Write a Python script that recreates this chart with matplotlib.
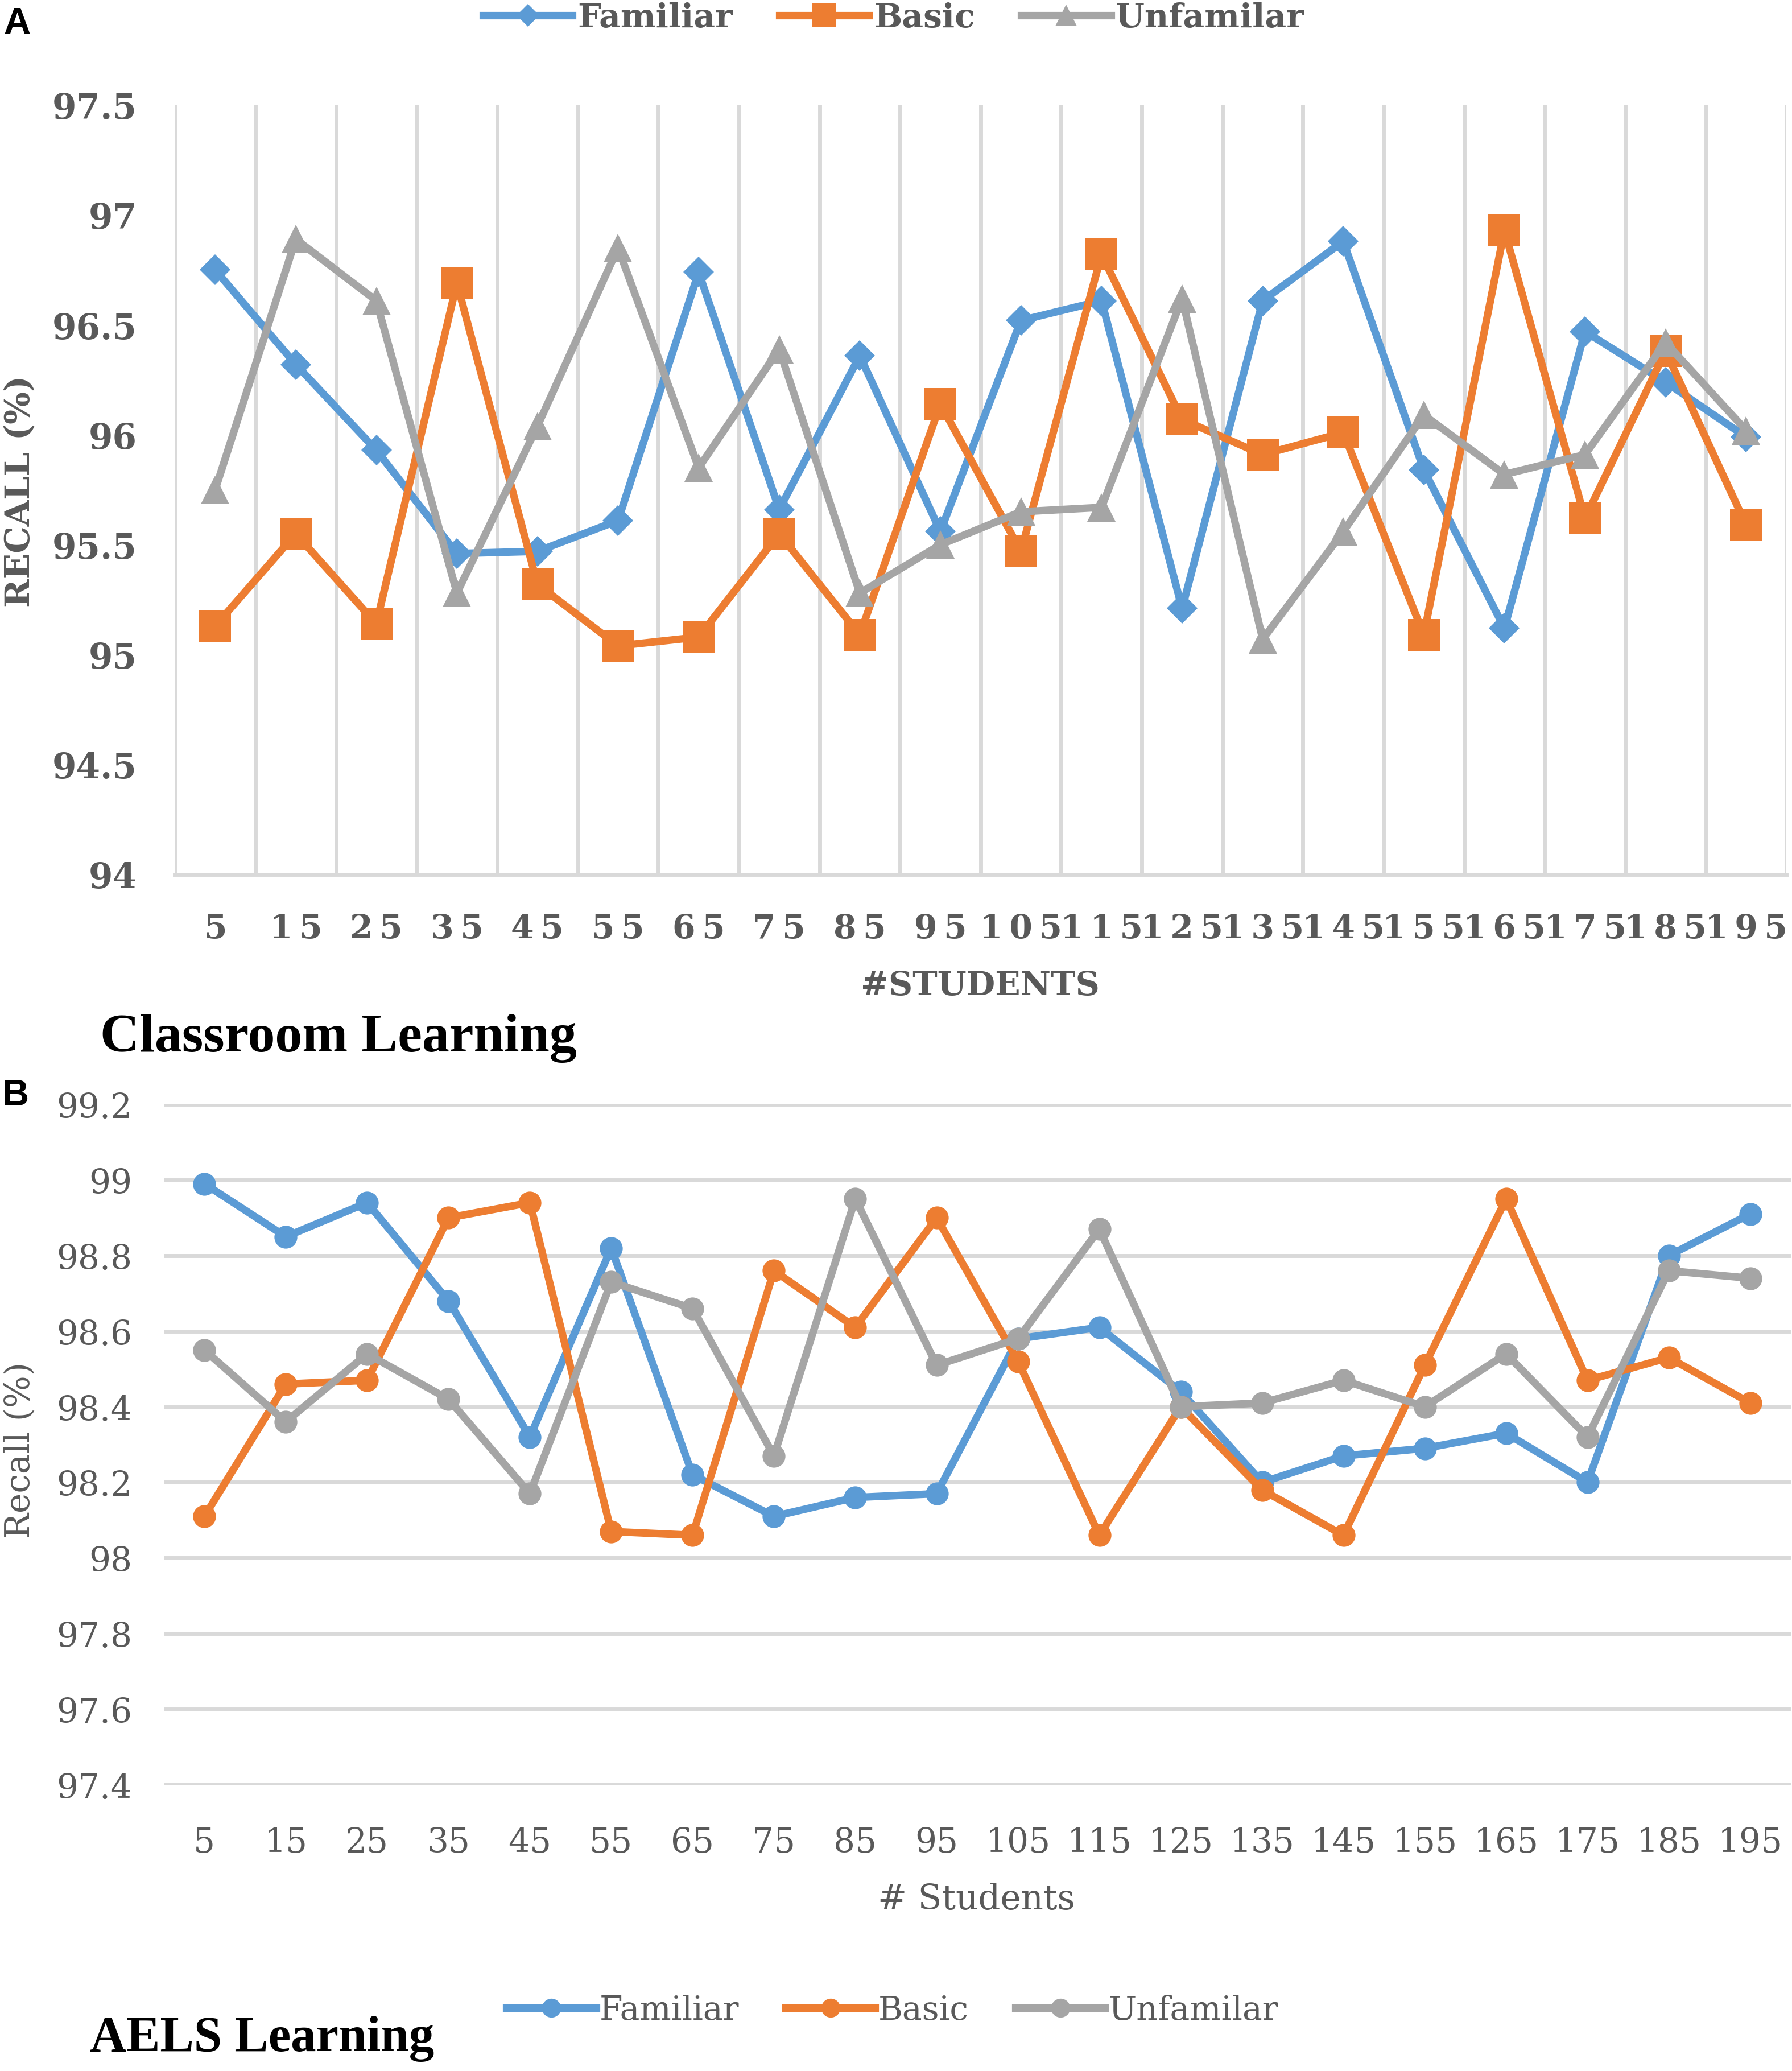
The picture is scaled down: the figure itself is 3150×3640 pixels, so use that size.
import matplotlib
matplotlib.use('Agg')
import matplotlib.pyplot as plt
from matplotlib.lines import Line2D

# ---------------- data ----------------
students = [5, 15, 25, 35, 45, 55, 65, 75, 85, 95,
            105, 115, 125, 135, 145, 155, 165, 175, 185, 195]
top_xticklabels = ["5", "1\u20095", "2\u20095", "3\u20095", "4\u20095", "5\u20095", "6\u20095",
                   "7\u20095", "8\u20095", "9\u20095",
                   "1\u20090\u20095", "1\u20091\u20095", "1\u20092\u20095", "1\u20093\u20095",
                   "1\u20094\u20095", "1\u20095\u20095", "1\u20096\u20095", "1\u20097\u20095",
                   "1\u20098\u20095", "1\u20099\u20095"]
bottom_xticklabels = ["5", "15", "25", "35", "45", "55", "65", "75", "85", "95",
                      "105", "115", "125", "135", "145", "155", "165", "175", "185", "195"]
series_names = ["Familiar", "Basic", "Unfamilar"]

top_yticks = [94, 94.5, 95, 95.5, 96, 96.5, 97, 97.5]
top_yticklabels = ["94", "94.5", "95", "95.5", "96", "96.5", "97", "97.5"]
bottom_yticks = [97.4, 97.6, 97.8, 98, 98.2, 98.4, 98.6, 98.8, 99, 99.2]
bottom_yticklabels = ["97.4", "97.6", "97.8", "98", "98.2", "98.4", "98.6", "98.8", "99", "99.2"]

classroom_familiar = [96.75, 96.32, 95.93, 95.46, 95.47, 95.61, 96.74, 95.66, 96.36, 95.56,
                      96.52, 96.61, 95.21, 96.61, 96.88, 95.84, 95.12, 96.47, 96.24, 95.99]
classroom_basic = [95.13, 95.55, 95.14, 96.69, 95.32, 95.04, 95.08, 95.55, 95.09, 96.14,
                   95.47, 96.82, 96.07, 95.91, 96.01, 95.09, 96.93, 95.62, 96.38, 95.59]
classroom_unfamiliar = [95.75, 96.89, 96.61, 95.28, 96.04, 96.85, 95.85, 96.39, 95.28, 95.50,
                        95.65, 95.67, 96.62, 95.07, 95.56, 96.09, 95.82, 95.91, 96.42, 96.02]

aels_familiar = [98.99, 98.85, 98.94, 98.68, 98.32, 98.82, 98.22, 98.11, 98.16, 98.17,
                 98.58, 98.61, 98.44, 98.20, 98.27, 98.29, 98.33, 98.20, 98.80, 98.91]
aels_basic = [98.11, 98.46, 98.47, 98.90, 98.94, 98.07, 98.06, 98.76, 98.61, 98.90,
              98.52, 98.06, 98.40, 98.18, 98.06, 98.51, 98.95, 98.47, 98.53, 98.41]
aels_unfamiliar = [98.55, 98.36, 98.54, 98.42, 98.17, 98.73, 98.66, 98.27, 98.95, 98.51,
                   98.58, 98.87, 98.40, 98.41, 98.47, 98.40, 98.54, 98.32, 98.76, 98.74]

# ---------------- style ----------------
colors = ["#5B9BD5", "#ED7D31", "#A5A5A5"]
grid_c = "#D9D9D9"
text_c = "#595959"
serif = "DejaVu Serif"
title_font = "Liberation Serif"
LW = 9.5
GW = 5

fig = plt.figure(figsize=(31.5, 36.41), dpi=100)

pos = list(range(len(students)))

# ================= Panel A =================
axA = fig.add_axes([0.0976, 0.5776, 0.8993, 0.3714])
top_markers = ["D", "s", "^"]
top_msizes = [27, 40, 36]
for vals, c, m, ms, name in zip([classroom_familiar, classroom_basic, classroom_unfamiliar],
                                colors, top_markers, top_msizes, series_names):
    axA.plot(pos, vals, color=c, lw=LW, marker=m, markersize=ms,
             markeredgewidth=0, label=name, zorder=3, clip_on=False)
axA.set_xlim(-0.5, len(students) - 0.5)
axA.set_ylim(94, 97.5)
axA.set_xticks(pos)
axA.set_xticklabels(top_xticklabels, fontfamily=serif, fontweight='bold',
                    fontsize=42, color=text_c)
axA.set_xticks([p - 0.5 for p in pos] + [len(students) - 0.5], minor=True)
axA.set_yticks(top_yticks)
axA.set_yticklabels(top_yticklabels, fontfamily=serif, fontweight='bold',
                    fontsize=44, color=text_c)
axA.tick_params(axis='both', which='both', length=0)
axA.tick_params(axis='x', which='major', pad=48)
axA.tick_params(axis='y', pad=48)
axA.grid(True, axis='x', which='minor', color=grid_c, lw=GW, zorder=0)
axA.grid(False, axis='x', which='major')
for s in ['top', 'left', 'right']:
    axA.spines[s].set_visible(False)
axA.spines['bottom'].set_color(grid_c)
axA.spines['bottom'].set_linewidth(GW)

fig.text(0.0110, 0.763, "RECALL (%)", rotation=90, ha='center', va='center',
         fontfamily=serif, fontweight='bold', fontsize=43, color=text_c)
fig.text(0.547, 0.524, "#STUDENTS", ha='center', va='center',
         fontfamily=serif, fontweight='bold', fontsize=42, color=text_c)

handlesA = [Line2D([], [], color=c, lw=LW, marker=m, markersize=ms * 0.75, markeredgewidth=0)
            for c, m, ms in zip(colors, top_markers, top_msizes)]
legA = fig.legend(handlesA, series_names, loc='center', bbox_to_anchor=(0.4986, 0.9912),
                  ncol=3, frameon=False, handlelength=2.7, handletextpad=0.15,
                  columnspacing=1.4, prop={'family': serif, 'weight': 'bold', 'size': 42})
for t in legA.get_texts():
    t.set_color(text_c)

fig.text(0.0095, 0.9885, "A", ha='center', va='center', fontfamily='Liberation Sans',
         fontweight='bold', fontsize=47, color='black')
fig.text(0.056, 0.4987, "Classroom Learning", ha='left', va='center',
         fontfamily=title_font, fontweight='bold', fontsize=69, color='black')

# ================= Panel B =================
axB = fig.add_axes([0.0914, 0.1382, 0.9080, 0.3284])
for vals, c, name in zip([aels_familiar, aels_basic, aels_unfamiliar], colors, series_names):
    axB.plot(pos, vals, color=c, lw=LW, marker='o', markersize=29,
             markeredgewidth=0, label=name, zorder=3, clip_on=False)
axB.set_xlim(-0.5, len(students) - 0.5)
axB.set_ylim(97.4, 99.2)
axB.set_xticks(pos)
axB.set_xticklabels(bottom_xticklabels, fontfamily=serif, fontsize=43, color=text_c)
axB.set_yticks(bottom_yticks)
axB.set_yticklabels(bottom_yticklabels, fontfamily=serif, fontsize=43, color=text_c)
axB.tick_params(axis='both', length=0)
axB.tick_params(axis='x', pad=52)
axB.tick_params(axis='y', pad=40)
axB.grid(True, axis='y', color=grid_c, lw=GW, zorder=0)
for s in ['top', 'left', 'right', 'bottom']:
    axB.spines[s].set_visible(False)

fig.text(0.0110, 0.300, "Recall (%)", rotation=90, ha='center', va='center',
         fontfamily=serif, fontsize=43, color=text_c)
fig.text(0.545, 0.083, "# Students", ha='center', va='center',
         fontfamily=serif, fontsize=44, color=text_c)

handlesB = [Line2D([], [], color=c, lw=LW, marker='o', markersize=24, markeredgewidth=0)
            for c in colors]
legB = fig.legend(handlesB, series_names, loc='center', bbox_to_anchor=(0.498, 0.0294),
                  ncol=3, frameon=False, handlelength=2.7, handletextpad=0.1,
                  columnspacing=1.4, prop={'family': serif, 'size': 42})
for t in legB.get_texts():
    t.set_color(text_c)

fig.text(0.0085, 0.4710, "B", ha='center', va='center', fontfamily='Liberation Sans',
         fontweight='bold', fontsize=47, color='black')
fig.text(0.050, 0.0157, "AELS Learning", ha='left', va='center',
         fontfamily=title_font, fontweight='bold', fontsize=64, color='black')

fig.savefig("out.png", dpi=100, facecolor='white')
